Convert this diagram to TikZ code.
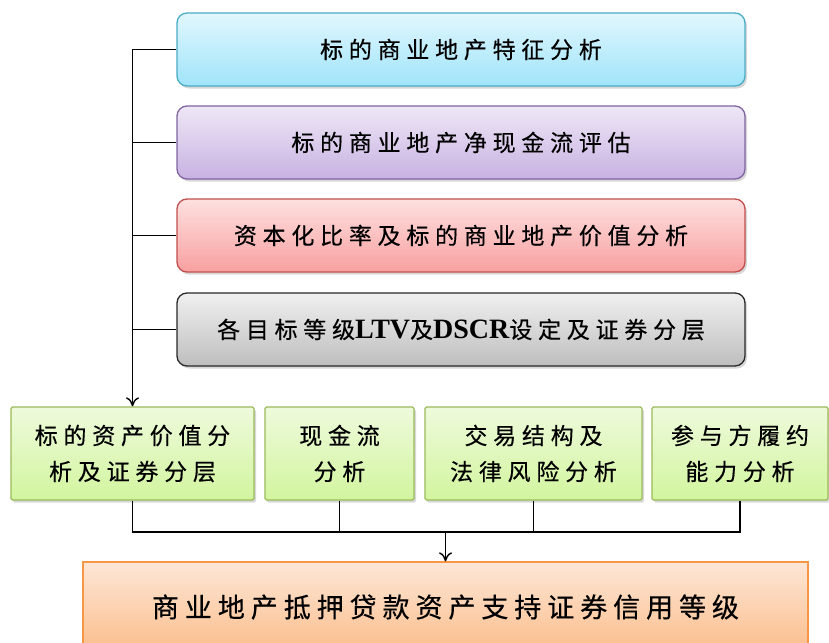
\documentclass[tikz,border=0pt]{standalone}
\usepackage{fontspec}
\usetikzlibrary{arrows.meta,shadows}
\newfontfamily\cjk[LetterSpace=25,FakeBold=0.4]{Noto Sans CJK SC}
\newfontfamily\cjkb[LetterSpace=22,FakeBold=0.4]{Noto Sans CJK SC}
\newfontfamily\latb{Liberation Serif}
\begin{document}
\begin{tikzpicture}[x=1pt,y=-1pt,
  box/.style={draw, line width=1.3pt, rounded corners=10pt, minimum width=568pt, minimum height=73pt,
    inner sep=0pt, font=\fontsize{23}{26}\cjk, text=black,
    drop shadow={shadow xshift=2pt, shadow yshift=-2.5pt, opacity=0.3}},
  cyanbox/.style={box, draw={rgb,255:red,75;green,172;blue,198}, top color={rgb,255:red,225;green,247;blue,253}, bottom color={rgb,255:red,160;green,228;blue,250}},
  purbox/.style={box, draw={rgb,255:red,128;green,100;blue,162}, top color={rgb,255:red,238;green,231;blue,246}, bottom color={rgb,255:red,200;green,178;blue,226}},
  redbox/.style={box, draw={rgb,255:red,192;green,80;blue,77}, top color={rgb,255:red,254;green,224;blue,224}, bottom color={rgb,255:red,248;green,160;blue,160}},
  graybox/.style={box, draw={rgb,255:red,40;green,40;blue,40}, top color={rgb,255:red,240;green,240;blue,240}, bottom color={rgb,255:red,190;green,190;blue,190}},
  greenbox/.style={draw={rgb,255:red,155;green,187;blue,89}, line width=1.3pt, rounded corners=1.5pt,
    minimum height=93pt, inner sep=0pt, align=center, font=\fontsize{23}{36}\cjk, text=black,
    top color={rgb,255:red,238;green,250;blue,220}, bottom color={rgb,255:red,210;green,245;blue,158},
    drop shadow={shadow xshift=2pt, shadow yshift=-2.5pt, opacity=0.3}},
  orangebox/.style={draw={rgb,255:red,247;green,150;blue,70}, line width=1.3pt,
    minimum width=725pt, minimum height=90pt, inner sep=0pt, font=\fontsize{27}{30}\cjkb, text=black,
    top color={rgb,255:red,253;green,230;blue,214}, bottom color={rgb,255:red,251;green,190;blue,140}},
  lat/.style={},
  conn/.style={line width=1.4pt, black},
  arr/.style={conn, -{To[length=9pt,width=13pt,line width=1.4pt]}}
]
\useasboundingbox (0,0) rectangle (829,642);
\clip (0,0) rectangle (829,642);
\fill[white] (0,0) rectangle (829,642);

\node[cyanbox] (b1) at (461,49.5) {标的商业地产特征分析};
\node[purbox]  (b2) at (461,142.5) {标的商业地产净现金流评估};
\node[redbox]  (b3) at (461,235.5) {资本化比率及标的商业地产价值分析};
\node[graybox] (b4) at (461,329.5) {各目标等级{\fontsize{28}{30}\latb\bfseries LTV}及{\fontsize{28}{30}\latb\bfseries DSCR}设定及证券分层};

\node[greenbox, minimum width=243pt] (ga) at (132.5,453.5) {标的资产价值分\\析及证券分层};
\node[greenbox, minimum width=149pt] (gb) at (339.5,453.5) {现金流\\分析};
\node[greenbox, minimum width=217pt] (gc) at (533.5,453.5) {交易结构及\\法律风险分析};
\node[greenbox, minimum width=176pt] (gd) at (740,453.5) {参与方履约\\能力分析};

\node[orangebox] (ob) at (445.5,607) {商业地产抵押贷款资产支持证券信用等级};

\draw[arr] (b1.west) -| (ga.north);
\draw[conn] (b2.west) -- (b2.west -| ga.north);
\draw[conn] (b3.west) -- (b3.west -| ga.north);
\draw[conn] (b4.west) -- (b4.west -| ga.north);

\coordinate (j) at (445.5,532);
\draw[conn] (ga.south) |- (j);
\draw[conn] (gd.south) |- (j);
\draw[conn] (gb.south) -- (gb.south |- j);
\draw[conn] (gc.south) -- (gc.south |- j);
\draw[arr] (j) -- (ob.north);
\end{tikzpicture}
\end{document}
